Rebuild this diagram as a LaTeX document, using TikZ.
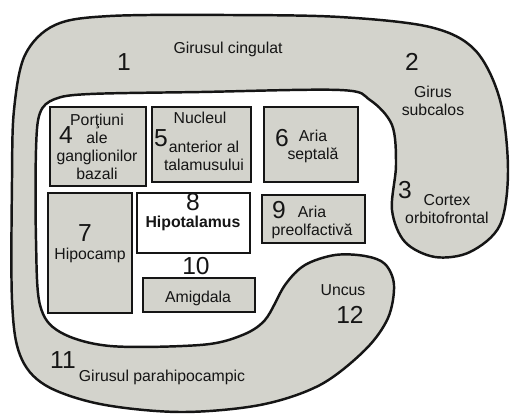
\documentclass[tikz,border=0pt]{standalone}
\usepackage{fontspec}
\setmainfont{Liberation Sans}
\usetikzlibrary{positioning}
\definecolor{stipple}{HTML}{D3D3CC}
\definecolor{inkline}{HTML}{151515}

\tikzset{
  area/.style={fill=stipple, draw=inkline, line width=1.4pt},
  cell/.style={fill=stipple, draw=inkline, line width=1.2pt},
  num/.style={font=\fontsize{14}{14}\selectfont, text=inkline, inner sep=0pt},
  lab/.style={font=\fontsize{9}{10.2}\selectfont, text=inkline, inner sep=0pt, align=center}
}

\begin{document}
\begin{tikzpicture}[x=0.02cm, y=-0.02cm]
    \useasboundingbox (0,0) rectangle (512,417);
    \fill[white] (0,0) rectangle (512,417);
    % limbic lobe, one closed outline
    \draw[area] plot[smooth cycle, tension=0.55] coordinates {
      (12,300) (12,180) (14,110) (25,55) (55,25) (110,16) (230,15) (340,17)
      (430,27) (475,50) (500,100) (508,170) (500,225) (470,252) (435,257)
      (405,242) (392,210) (396,165) (392,125) (370,100) (340,90) (200,92)
      (90,94) (55,99) (40,113) (36,150) (36,240) (40,305) (60,332) (110,346)
      (200,345) (240,336) (265,320) (285,285) (305,265) (335,255) (365,256)
      (385,264) (394,285) (388,318) (365,350) (320,385) (260,405) (180,412)
      (100,404) (45,385) (20,355)};
    \draw[cell] (50,107) rectangle (146,186);
    \draw[cell] (152,107) rectangle (251,182);
    \draw[cell] (264,107) rectangle (358,182);
    \draw[cell] (48,193) rectangle (132,313);
    \draw[cell, fill=white] (137,193) rectangle (250,253);
    \draw[cell] (262,195) rectangle (365,243);
    \draw[cell] (143,278) rectangle (255,312);
    \foreach \n/\x/\y in {1/124/62, 2/412/62, 3/405/190, 4/66/135, 5/161/138,
      6/282/138, 7/85/233, 8/193/202, 9/279/210, 10/196/266, 11/63/360, 12/350/315}
      \node[num] (n\n) at (\x,\y) {\n};
    \node[lab] (cingulat) at (228,49) {Girusul cingulat};
    \node[lab] (subcalos) at (433,101) {Girus\\subcalos};
    \node[lab] (orbito) at (447,209) {Cortex\\orbitofrontal};
    \node[lab] (bazali) at (97,147) {Porţiuni\\ale\\ganglionilor\\bazali};
    \node[lab] (nucleul) at (200,118) {Nucleul};
    \node[lab] (talamus) at (204,156) {anterior al\\talamusului};
    \node[lab] (septala) at (313,146) {Aria\\septală};
    \node[lab] (hipocamp) at (90,255) {Hipocamp};
    \node[lab, font=\fontsize{9}{10.2}\selectfont\bfseries] (hipotal) at (193,223) {Hipotalamus};
    \node[lab] (preolf) at (312,222) {Aria\\preolfactivă};
    \node[lab] (amigdala) at (198,298) {Amigdala};
    \node[lab] (uncus) at (343,290) {Uncus};
    \node[lab] (parahip) at (162,377) {Girusul parahipocampic};
  \end{tikzpicture}
\end{document}
